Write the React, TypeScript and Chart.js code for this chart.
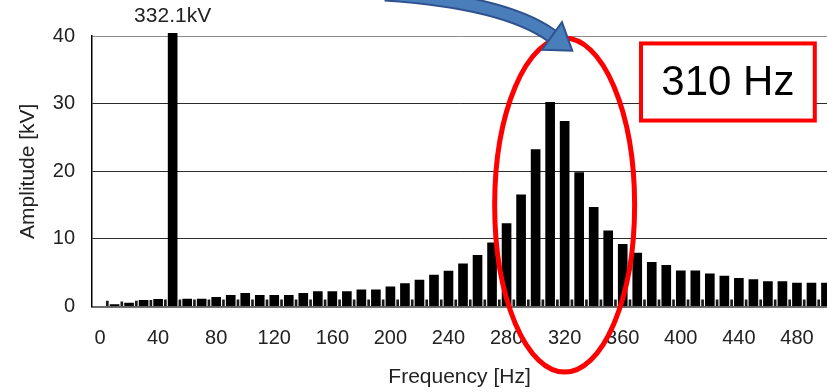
import React, { useEffect, useRef } from "react";
import { Chart, registerables } from "chart.js";

Chart.register(...registerables);

// ---- data ----
const mainFreqs = [
  10, 20, 30, 40, 50, 60, 70, 80, 90, 100,
  110, 120, 130, 140, 150, 160, 170, 180, 190, 200,
  210, 220, 230, 240, 250, 260, 270, 280, 290, 300,
  310, 320, 330, 340, 350, 360, 370, 380, 390, 400,
  410, 420, 430, 440, 450, 460, 470, 480, 490, 500,
];
const mainAmps = [
  0.3, 0.5, 0.9, 1.05, 332.1, 1.1, 1.1, 1.35, 1.65, 1.95,
  1.65, 1.65, 1.65, 1.95, 2.2, 2.2, 2.2, 2.45, 2.45, 2.9,
  3.4, 3.9, 4.65, 5.25, 6.3, 7.55, 9.4, 12.25, 16.5, 23.2,
  30.2, 27.4, 19.8, 14.65, 11.2, 9.2, 7.9, 6.55, 6.1, 5.27,
  5.27, 4.83, 4.48, 4.18, 3.99, 3.69, 3.69, 3.45, 3.45, 3.45,
];
const stubFreqs = [
  5, 15, 25, 35, 45, 55, 65, 75, 85, 95,
  105, 115, 125, 135, 145, 155, 165, 175, 185, 195,
  205, 215, 225, 235, 245, 255, 265, 275, 285, 295,
  305, 315, 325, 335, 345, 355, 365, 375, 385, 395,
  405, 415, 425, 435, 445, 455, 465, 475, 485, 495,
];
const stubAmps = [
  0.8, 0.7, 0.8, 0.9, 1.0, 1.0, 1.0, 1.0, 1.0, 1.0,
  1.0, 1.0, 1.0, 1.0, 1.0, 1.0, 1.0, 1.0, 1.0, 1.0,
  1.0, 1.0, 1.0, 1.0, 1.0, 1.0, 1.0, 1.0, 1.0, 1.0,
  1.0, 1.0, 1.0, 1.0, 1.0, 1.0, 1.0, 1.0, 1.0, 1.0,
  1.0, 1.0, 1.0, 1.0, 1.0, 1.0, 1.0, 1.0, 1.0, 1.0,
];
const xTickValues = [0, 40, 80, 120, 160, 200, 240, 280, 320, 360, 400, 440, 480];
const yTickValues = [0, 10, 20, 30, 40];

const xTitle = "Frequency [Hz]";
const yTitle = "Amplitude [kV]";
const peakFreq = 50;
const peakLabel = "332.1kV";
const calloutText = "310 Hz";

// annotation geometry in data units
const ellipseCenter = { hz: 320, kv: 15 };
const ellipseHalf = { hz: 48.2, kv: 24.7 };
const calloutBox = { hz0: 372.6, hz1: 492.3, kv0: 27.5, kv1: 38.9 };

const FONT = '"Liberation Sans", Arial, sans-serif';

const annotationPlugin = {
  id: "annotations",
  afterDatasetsDraw(chart: any) {
    const { ctx, chartArea } = chart;
    const x = chart.scales.x;
    const y = chart.scales.y;
    ctx.save();

    // peak label above clipped bar
    ctx.font = `21px ${FONT}`;
    ctx.fillStyle = "#222";
    ctx.textAlign = "center";
    ctx.textBaseline = "middle";
    ctx.fillText(peakLabel, x.getPixelForValue(peakFreq), chartArea.top - 19.5);

    // red ellipse
    const cx = x.getPixelForValue(ellipseCenter.hz);
    const cy = y.getPixelForValue(ellipseCenter.kv);
    const rx = x.getPixelForValue(ellipseCenter.hz + ellipseHalf.hz) - cx;
    const ry = cy - y.getPixelForValue(ellipseCenter.kv + ellipseHalf.kv);
    ctx.beginPath();
    ctx.ellipse(cx, cy, rx, ry, 0, 0, Math.PI * 2);
    ctx.strokeStyle = "#ff0000";
    ctx.lineWidth = 5;
    ctx.stroke();

    // callout box
    const bx0 = x.getPixelForValue(calloutBox.hz0);
    const bx1 = x.getPixelForValue(calloutBox.hz1);
    const by0 = y.getPixelForValue(calloutBox.kv1);
    const by1 = y.getPixelForValue(calloutBox.kv0);
    ctx.fillStyle = "#ffffff";
    ctx.fillRect(bx0, by0, bx1 - bx0, by1 - by0);
    ctx.strokeStyle = "#ff0000";
    ctx.lineWidth = 4;
    ctx.strokeRect(bx0, by0, bx1 - bx0, by1 - by0);
    ctx.fillStyle = "#000";
    ctx.font = `42px ${FONT}`;
    ctx.textAlign = "center";
    ctx.textBaseline = "middle";
    ctx.fillText(calloutText, (bx0 + bx1) / 2, (by0 + by1) / 2 + 1);

    // blue curved arrow
    const sx = 385, sy = -6, qx = 505, qy = 2, ex = 552, ey = 36;
    ctx.lineCap = "butt";
    ctx.beginPath();
    ctx.moveTo(sx, sy);
    ctx.quadraticCurveTo(qx, qy, ex, ey);
    ctx.strokeStyle = "#2f528f";
    ctx.lineWidth = 15;
    ctx.stroke();
    ctx.beginPath();
    ctx.moveTo(sx, sy);
    ctx.quadraticCurveTo(qx, qy, ex, ey);
    ctx.strokeStyle = "#4a7ebb";
    ctx.lineWidth = 11;
    ctx.stroke();
    let dx = ex - qx, dy = ey - qy;
    const len = Math.hypot(dx, dy);
    dx /= len; dy /= len;
    const px = -dy, py = dx;
    const tipX = ex + dx * 25, tipY = ey + dy * 25;
    ctx.beginPath();
    ctx.moveTo(ex + px * 17, ey + py * 17);
    ctx.lineTo(tipX, tipY);
    ctx.lineTo(ex - px * 17, ey - py * 17);
    ctx.closePath();
    ctx.fillStyle = "#4a7ebb";
    ctx.fill();
    ctx.strokeStyle = "#2f528f";
    ctx.lineWidth = 2;
    ctx.stroke();

    ctx.restore();
  },
};

export default function App() {
  const ref = useRef<HTMLCanvasElement | null>(null);

  useEffect(() => {
    if (!ref.current) return;
    const chart = new Chart(ref.current, {
      type: "bar",
      data: {
        datasets: [
          {
            label: "main",
            data: mainFreqs.map((f, i) => ({ x: f, y: mainAmps[i] })),
            backgroundColor: "#000000",
            borderWidth: 0,
            barThickness: 9,
            grouped: false,
            clip: { left: 0, top: 3, right: 10, bottom: 0 },
            order: 1,
          } as any,
          {
            label: "sub",
            data: stubFreqs.map((f, i) => ({ x: f, y: stubAmps[i] })),
            backgroundColor: "#1a1a1a",
            borderWidth: 0,
            barThickness: 2,
            grouped: false,
            order: 2,
          } as any,
        ],
      },
      options: {
        responsive: false,
        animation: false,
        devicePixelRatio: 1,
        layout: { padding: { left: 12, top: 36, right: 0, bottom: 0 } },
        plugins: {
          legend: { display: false },
          tooltip: { enabled: false },
        },
        scales: {
          x: {
            type: "linear",
            min: -5.51,
            max: 500.7,
            offset: false,
            grid: { display: false, drawTicks: false },
            border: { display: true, color: "#6e6e6e", width: 2 },
            afterBuildTicks: (scale: any) => {
              scale.ticks = xTickValues.map((v) => ({ value: v }));
            },
            afterFit: (scale: any) => {
              scale.paddingLeft = 0;
              scale.paddingRight = 0;
            },
            ticks: {
              autoSkip: false,
              maxRotation: 0,
              padding: 19.5,
              color: "#222",
              font: { family: FONT, size: 20 },
            },
            title: {
              display: true,
              text: xTitle,
              color: "#222",
              font: { family: FONT, size: 21 },
              padding: { top: -4.7, bottom: 2 },
            },
          },
          y: {
            type: "linear",
            min: 0,
            max: 40,
            afterBuildTicks: (scale: any) => {
              scale.ticks = yTickValues.map((v) => ({ value: v }));
            },
            grid: {
              drawTicks: false,
              color: (c: any) => (c.tick && c.tick.value === 40 ? "#8c8c8c" : "#2b2b2b"),
              lineWidth: 1,
            },
            border: { display: true, color: "#000", width: 1.5 },
            ticks: {
              padding: 17,
              color: "#222",
              font: { family: FONT, size: 20 },
            },
            title: {
              display: true,
              text: yTitle,
              color: "#222",
              font: { family: FONT, size: 21 },
              padding: { top: 4, bottom: -5.4 },
            },
          },
        },
      } as any,
      plugins: [annotationPlugin],
    });
    return () => chart.destroy();
  }, []);

  return (
    <div style={{ position: "absolute", left: 0, top: 0, width: 827, height: 392, background: "#fff", overflow: "hidden" }}>
      <canvas ref={ref} width={827} height={392} style={{ display: "block", width: 827, height: 392 }} />
    </div>
  );
}
